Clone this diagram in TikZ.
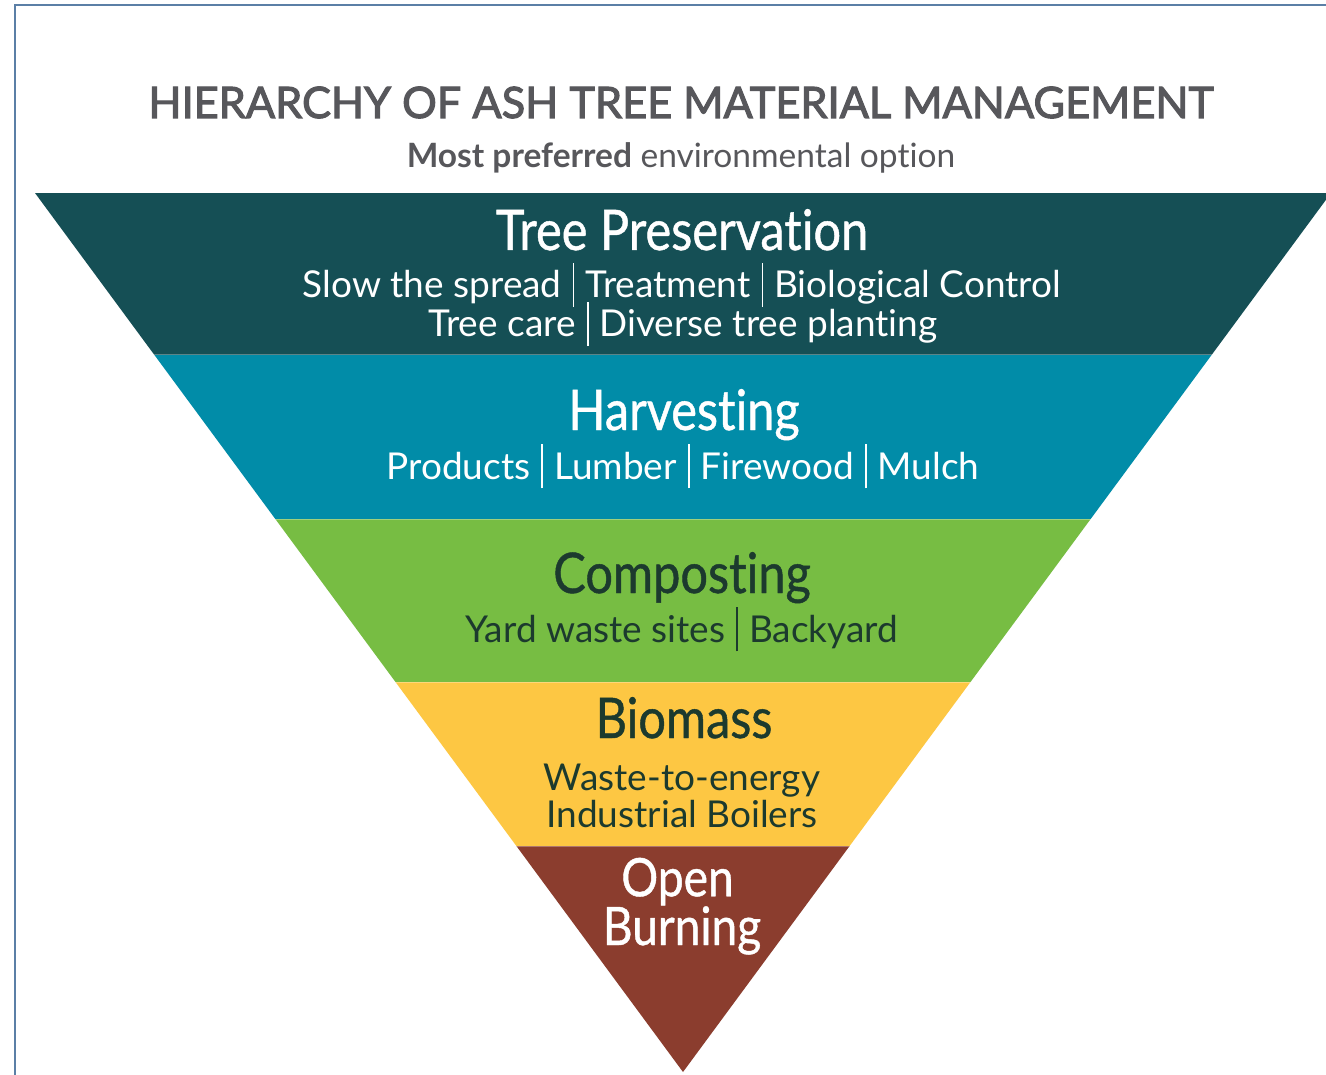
\documentclass[tikz,border=0pt]{standalone}
\usepackage{fontspec}
\defaultfontfeatures{Ligatures={NoCommon}}
\setmainfont{Lato}
\newfontfamily\titlefont[FakeBold=2.5,Ligatures={NoCommon}]{Lato}
\newfontfamily\headfont[FakeBold=0.8,FakeStretch=0.87,Ligatures={NoCommon}]{Lato}
\definecolor{frameblue}{HTML}{5B7FA6}
\definecolor{titlegray}{HTML}{57575B}
\definecolor{bandA}{HTML}{154F55}
\definecolor{bandB}{HTML}{018CA8}
\definecolor{bandC}{HTML}{77BD43}
\definecolor{bandD}{HTML}{FDC743}
\definecolor{bandE}{HTML}{8B3D2E}
\definecolor{darktext}{HTML}{1C3A2E}
\newcommand{\vsep}{\hspace{0.3em}\rule[-0.25em]{0.045em}{1.2em}\hspace{0.3em}}
\tikzset{
  head/.style={anchor=base, inner sep=0pt, font=\headfont\fontsize{56}{60}\selectfont},
  smallhead/.style={inner sep=0pt, align=center, font=\headfont\fontsize{53}{47}\selectfont},
  sub/.style={anchor=base, inner sep=0pt, font=\fontsize{37}{40}\selectfont},
  light/.style={text=white},
  dark/.style={text=darktext},
  seam/.style={white, opacity=0.3, line width=1pt}
}
\begin{document}
\begin{tikzpicture}[x=1pt,y=-1pt]
\useasboundingbox[fill=white] (0,0) rectangle (1326,1075);
% frame
\draw[frameblue, line width=1.2pt] (15,1075) -- (15,5) -- (1326,5);
% title
\node[anchor=base, inner sep=0pt, text=titlegray, font=\titlefont\fontsize{43.3}{48}\selectfont] (title) at (681,118) {HIERARCHY OF ASH TREE MATERIAL MANAGEMENT};
\node[anchor=base, inner sep=0pt, text=titlegray, font=\fontsize{33.5}{38}\selectfont] (subtitle) at (681,168) {\textbf{Most preferred} environmental option};
% bands
\begin{scope}
\clip (35,193) -- (1331,193) -- (683,1072) -- cycle;
\fill[bandA] (0,193) rectangle (1340,355);
\fill[bandB] (0,355) rectangle (1340,519);
\fill[bandC] (0,519) rectangle (1340,682);
\fill[bandD] (0,682) rectangle (1340,846);
\fill[bandE] (0,846) rectangle (1340,1080);
\draw[seam] (0,355) -- (1340,355);
\draw[seam] (0,519) -- (1340,519);
\draw[seam] (0,682) -- (1340,682);
\draw[seam] (0,846) -- (1340,846);
\end{scope}
% band texts
\node[head, light] (pres) at (682,250) {Tree Preservation};
\node[sub, light] (presA) at (682,298) {Slow the spread\vsep Treatment\vsep Biological Control};
\node[sub, light] (presB) at (683,337) {Tree care\vsep Diverse tree planting};
\node[head, light] (harv) at (684,430) {Harvesting};
\node[sub, light] (harvA) at (683,479) {Products\vsep Lumber\vsep Firewood\vsep Mulch};
\node[head, dark] (comp) at (682,593) {Composting};
\node[sub, dark] (compA) at (682,642) {Yard waste sites\vsep Backyard};
\node[head, dark] (bio) at (684,738) {Biomass};
\node[sub, dark] (bioA) at (682,790) {Waste-to-energy};
\node[sub, dark] (bioB) at (682,827) {Industrial Boilers};
\node[smallhead, light, anchor=base] (burn) at (682,945) {Open\rule{0.17em}{0pt}\\Burning};
\end{tikzpicture}
\end{document}
